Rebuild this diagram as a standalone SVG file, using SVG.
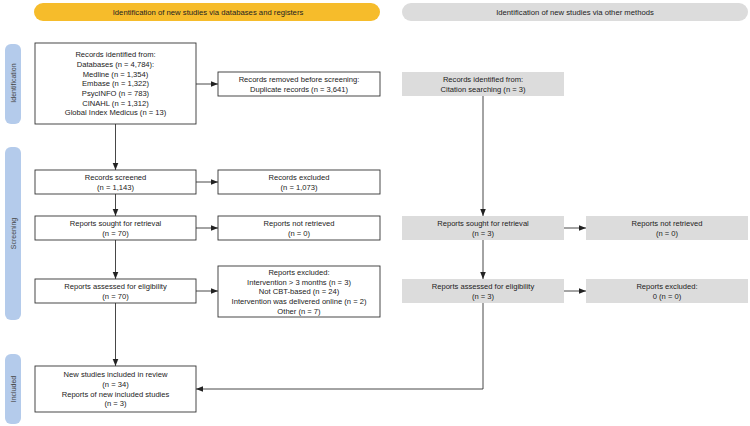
<svg xmlns="http://www.w3.org/2000/svg" width="750" height="426" viewBox="0 0 750 426">
<defs>
<style>
text{font-family:"Liberation Sans",Arial,sans-serif;font-size:7.6px;fill:#222;text-anchor:middle}
.box{fill:#fff;stroke:#333;stroke-width:0.9}
.gbox{fill:#dcdcdc;stroke:none}
.side{fill:#b4cbeb}
.sidet{fill:#444;font-size:7px}
.hdr text{font-size:7.7px}
.conn{fill:none;stroke:#333;stroke-width:0.9}
</style>
<marker id="ah" viewBox="0 0 10 10" refX="10" refY="5" markerWidth="7" markerHeight="7" markerUnits="userSpaceOnUse" orient="auto">
<path d="M0,1 L10,5 L0,9 z" fill="#222"/>
</marker>
</defs>
<rect width="750" height="426" fill="#fff"/>

<g id="hdr-left" class="hdr">
<rect x="34" y="3" width="346" height="18" rx="9" fill="#f6bc2b"/>
<text x="208" y="14.6">Identification of new studies via databases and registers</text>
</g>
<g id="hdr-right" class="hdr">
<rect x="402" y="3" width="346" height="18" rx="9" fill="#dcdcdc"/>
<text x="575" y="14.6">Identification of new studies via other methods</text>
</g>

<g id="side-identification">
<rect class="side" x="5" y="44" width="16" height="80" rx="6"/>
<text class="sidet" transform="translate(15.5,83) rotate(-90)">Identification</text>
</g>
<g id="side-screening">
<rect class="side" x="5" y="147" width="16" height="173" rx="6"/>
<text class="sidet" transform="translate(15.5,233.5) rotate(-90)">Screening</text>
</g>
<g id="side-included">
<rect class="side" x="5" y="354" width="16" height="70" rx="6"/>
<text class="sidet" transform="translate(15.5,389) rotate(-90)">Included</text>
</g>

<g id="connectors">
<path class="conn" d="M115.5,124 V170" marker-end="url(#ah)"/>
<path class="conn" d="M115.5,194 V216" marker-end="url(#ah)"/>
<path class="conn" d="M115.5,240 V279" marker-end="url(#ah)"/>
<path class="conn" d="M115.5,303 V366" marker-end="url(#ah)"/>
<path class="conn" d="M196,84 H218" marker-end="url(#ah)"/>
<path class="conn" d="M196,182 H218" marker-end="url(#ah)"/>
<path class="conn" d="M196,228 H218" marker-end="url(#ah)"/>
<path class="conn" d="M196,291 H218" marker-end="url(#ah)"/>
<path class="conn" d="M483,96 V216" marker-end="url(#ah)"/>
<path class="conn" d="M483,240 V279" marker-end="url(#ah)"/>
<path class="conn" d="M483,303 V389 H196" marker-end="url(#ah)"/>
<path class="conn" d="M564,228 H586" marker-end="url(#ah)"/>
<path class="conn" d="M564,291 H586" marker-end="url(#ah)"/>
</g>

<g id="records-identified">
<rect class="box" x="35" y="43" width="161" height="81"/>
<text x="115.5" y="57.1">Records identified from:</text>
<text x="115.5" y="66.8">Databases (n = 4,784):</text>
<text x="115.5" y="76.5">Medline (n = 1,354)</text>
<text x="115.5" y="86.2">Embase (n = 1,322)</text>
<text x="115.5" y="95.9">PsycINFO (n = 783)</text>
<text x="115.5" y="105.6">CINAHL (n = 1,312)</text>
<text x="115.5" y="115.3">Global Index Medicus (n = 13)</text>
</g>
<g id="records-removed">
<rect class="box" x="218" y="72" width="162" height="24"/>
<text x="299" y="81.85">Records removed before screening:</text>
<text x="299" y="91.55">Duplicate records (n = 3,641)</text>
</g>
<g id="citation-identified">
<rect class="gbox" x="402" y="72" width="162" height="24"/>
<text x="483" y="81.85">Records identified from:</text>
<text x="483" y="91.55">Citation searching (n = 3)</text>
</g>
<g id="records-screened">
<rect class="box" x="35" y="170" width="161" height="24"/>
<text x="115.5" y="179.85">Records screened</text>
<text x="115.5" y="189.55">(n = 1,143)</text>
</g>
<g id="records-excluded">
<rect class="box" x="218" y="170" width="162" height="24"/>
<text x="299" y="179.85">Records excluded</text>
<text x="299" y="189.55">(n = 1,073)</text>
</g>
<g id="reports-sought">
<rect class="box" x="35" y="216" width="161" height="24"/>
<text x="115.5" y="225.85">Reports sought for retrieval</text>
<text x="115.5" y="235.55">(n = 70)</text>
</g>
<g id="reports-not-retrieved">
<rect class="box" x="218" y="216" width="162" height="24"/>
<text x="299" y="225.85">Reports not retrieved</text>
<text x="299" y="235.55">(n = 0)</text>
</g>
<g id="other-reports-sought">
<rect class="gbox" x="402" y="216" width="162" height="24"/>
<text x="483" y="225.85">Reports sought for retrieval</text>
<text x="483" y="235.55">(n = 3)</text>
</g>
<g id="other-reports-not-retrieved">
<rect class="gbox" x="586" y="216" width="162" height="24"/>
<text x="667" y="225.85">Reports not retrieved</text>
<text x="667" y="235.55">(n = 0)</text>
</g>
<g id="reports-assessed">
<rect class="box" x="35" y="279" width="161" height="24"/>
<text x="115.5" y="288.85">Reports assessed for eligibility</text>
<text x="115.5" y="298.55">(n = 70)</text>
</g>
<g id="reports-excluded">
<rect class="box" x="218" y="266" width="162" height="51"/>
<text x="299" y="274.8">Reports excluded:</text>
<text x="299" y="284.5">Intervention &gt; 3 months (n = 3)</text>
<text x="299" y="294.2">Not CBT-based (n = 24)</text>
<text x="299" y="303.9">Intervention was delivered online (n = 2)</text>
<text x="299" y="313.6">Other (n = 7)</text>
</g>
<g id="other-reports-assessed">
<rect class="gbox" x="402" y="279" width="162" height="24"/>
<text x="483" y="288.85">Reports assessed for eligibility</text>
<text x="483" y="298.55">(n = 3)</text>
</g>
<g id="other-reports-excluded">
<rect class="gbox" x="586" y="279" width="162" height="24"/>
<text x="667" y="288.85">Reports excluded:</text>
<text x="667" y="298.55">0 (n = 0)</text>
</g>
<g id="included">
<rect class="box" x="35" y="366" width="161" height="46"/>
<text x="115.5" y="377.15">New studies included in review</text>
<text x="115.5" y="386.85">(n = 34)</text>
<text x="115.5" y="396.55">Reports of new included studies</text>
<text x="115.5" y="406.25">(n = 3)</text>
</g>
</svg>
